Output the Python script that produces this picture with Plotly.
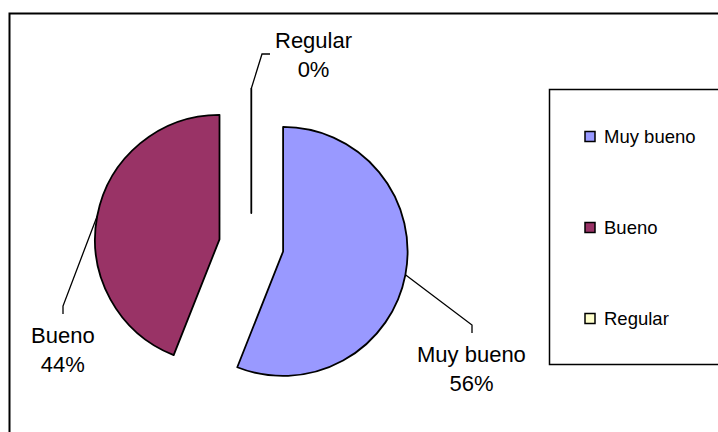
import plotly.graph_objects as go
import math

# Survey results
categories = ["Muy bueno", "Bueno", "Regular"]
values = [56, 44, 0]
colors = ["#9999FF", "#993366", "#FFFFCC"]

W, H = 718, 432
FONT = "Arial, 'Liberation Sans', sans-serif"

# Pie geometry (pixels): centre, radius and explode fraction
cx, cy, r, pull = 251.3, 245.4, 124.5, 0.26
half = r * (1 + pull)


def px(x):
    return x / W


def py(y):
    return 1 - y / H


fig = go.Figure()
fig.add_trace(go.Pie(
    labels=categories,
    values=values,
    marker=dict(colors=colors, line=dict(color="black", width=1.8)),
    sort=False,
    direction="clockwise",
    rotation=0,
    pull=[pull] * len(values),
    textinfo="none",
    hoverinfo="label+percent",
    showlegend=False,
    domain=dict(x=[px(cx - half), px(cx + half)],
                y=[py(cy + half), py(cy - half)]),
))

shapes = []
annotations = []

# Outer chart frame
shapes.append(dict(type="rect", xref="paper", yref="paper",
                   x0=px(9.5), y0=py(13.5), x1=px(760), y1=py(470),
                   line=dict(color="black", width=2)))

# Data labels with leader lines
label_pos = {"Muy bueno": (472, 369), "Bueno": (63, 350), "Regular": (313, 55)}
total = sum(values)
cum = 0.0
for cat, v in zip(categories, values):
    frac = v / total
    mid = (cum + frac / 2) * 2 * math.pi
    cum += frac
    sx, sy = math.sin(mid), -math.cos(mid)
    ecx, ecy = cx + pull * r * sx, cy + pull * r * sy
    ax, ay = ecx + r * sx, ecy + r * sy
    lx, ly = label_pos[cat]
    if cat == "Regular":
        ex, ey = lx - 43, ly - 1
        bx, by = lx - 51, ly - 1
    else:
        ex, ey = lx, ly - 36
        bx, by = lx, ly - 44
    shapes.append(dict(type="path", xref="paper", yref="paper",
                       path=f"M {px(ax)},{py(ay)} L {px(bx)},{py(by)} L {px(ex)},{py(ey)}",
                       line=dict(color="black", width=1.3)))
    pct = round(100 * v / total)
    annotations.append(dict(x=px(lx), y=py(ly), xref="paper", yref="paper",
                            text=f"{cat}<br>{pct}%", showarrow=False,
                            xanchor="center", yanchor="middle",
                            font=dict(family=FONT, size=22, color="black")))

# Legend box and entries
shapes.append(dict(type="rect", xref="paper", yref="paper",
                   x0=px(549.5), y0=py(89.5), x1=px(760), y1=py(364.5),
                   line=dict(color="black", width=1.5)))
for i, (cat, col) in enumerate(zip(categories, colors)):
    yc = 136.5 + i * 91
    shapes.append(dict(type="rect", xref="paper", yref="paper",
                       x0=px(585), y0=py(yc - 5), x1=px(595), y1=py(yc + 5),
                       fillcolor=col, line=dict(color="black", width=1.5)))
    annotations.append(dict(x=px(602), y=py(yc), xref="paper", yref="paper",
                            text=cat, showarrow=False,
                            xanchor="left", yanchor="middle",
                            font=dict(family=FONT, size=18.5, color="black")))

fig.update_layout(
    width=W, height=H,
    margin=dict(l=0, r=0, t=0, b=0),
    paper_bgcolor="white",
    plot_bgcolor="white",
    showlegend=False,
    shapes=shapes,
    annotations=annotations,
)

fig.write_html("out.html")
